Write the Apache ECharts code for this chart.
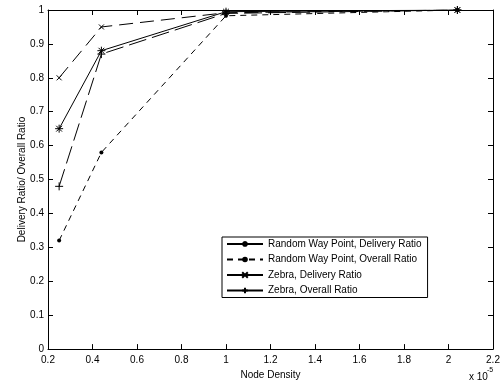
<!DOCTYPE html>
<html>
<head>
<meta charset="utf-8">
<script src="https://cdn.jsdelivr.net/npm/echarts@6/dist/echarts.min.js"></script>
<style>html,body{margin:0;padding:0;background:#fff;}#c{width:503px;height:385px;}</style>
</head>
<body>
<div id="c"></div>
<script>
const density = [0.25, 0.44, 1.0, 2.04];
const rwpDelivery = [0.65, 0.88, 0.995, 1.0];
const rwpOverall = [0.32, 0.58, 0.983, 1.0];
const zebraDelivery = [0.80, 0.95, 0.992, 1.0];
const zebraOverall = [0.48, 0.87, 0.99, 1.0];
const seriesNames = ['Random Way Point, Delivery Ratio', 'Random Way Point, Overall Ratio', 'Zebra, Delivery Ratio', 'Zebra, Overall Ratio'];
const xName = 'Node Density';
const yName = 'Delivery Ratio/ Overall Ratio';

const FONT = 'Liberation Sans';
const pair = arr => density.map((x, i) => [x, arr[i]]);
const ASTER = 'path://M0,-5L0,5M-5,0L5,0M-3.6,-3.6L3.6,3.6M-3.6,3.6L3.6,-3.6';
const PLUS = 'path://M0,-5L0,5M-5,0L5,0';
const CROSS = 'path://M-5,-5L5,5M-5,5L5,-5';
const symStyle = {color: '#000', borderColor: '#000', borderWidth: 1};

const chart = echarts.init(document.getElementById('c'), null, {renderer: 'canvas'});
const axisCommon = {
  axisLine: {show: true, onZero: false, lineStyle: {color: '#000', width: 1}},
  axisTick: {show: true, inside: true, length: 5, lineStyle: {color: '#000'}},
  splitLine: {show: false}
};
chart.setOption({
  animation: false,
  backgroundColor: '#fff',
  grid: {left: 48, right: 10, top: 10, bottom: 34},
  xAxis: [
    Object.assign({type: 'value', min: 0.2, max: 2.2, interval: 0.2, position: 'bottom',
      name: xName, nameLocation: 'middle', nameGap: 19,
      nameTextStyle: {fontFamily: FONT, fontSize: 10, color: '#000'},
      axisLabel: {fontFamily: FONT, fontSize: 10, color: '#000', margin: 6,
        formatter: v => String(Math.round(v * 10) / 10)}}, axisCommon),
    Object.assign({type: 'value', min: 0.2, max: 2.2, interval: 0.2, position: 'top',
      axisLabel: {show: false}}, axisCommon)
  ],
  yAxis: [
    Object.assign({type: 'value', min: 0, max: 1, interval: 0.1, position: 'left',
      name: yName, nameLocation: 'middle', nameGap: 21, nameMoveOverlap: false,
      nameTextStyle: {fontFamily: FONT, fontSize: 10, color: '#000'},
      axisLabel: {fontFamily: FONT, fontSize: 10, color: '#000', margin: 4,
        formatter: v => String(Math.round(v * 10) / 10)}}, axisCommon),
    Object.assign({type: 'value', min: 0, max: 1, interval: 0.1, position: 'right',
      axisLabel: {show: false}}, axisCommon)
  ],
  legend: {
    orient: 'vertical', left: 222, top: 237,
    width: 209,
    backgroundColor: '#fff', borderColor: '#000', borderWidth: 1,
    padding: [1, 6, 1, 4], itemGap: 3.5, itemWidth: 36, itemHeight: 7,
    textStyle: {fontFamily: FONT, fontSize: 10, color: '#000', lineHeight: 12},
    data: [
      {name: seriesNames[0]},
      {name: seriesNames[1]},
      {name: seriesNames[2], lineStyle: {type: 'solid'}},
      {name: seriesNames[3], lineStyle: {type: 'solid'}}
    ]
  },
  series: [
    {name: seriesNames[0], type: 'line', data: pair(rwpDelivery), symbol: ASTER, symbolSize: 8,
      itemStyle: symStyle, lineStyle: {color: '#000', width: 1, type: 'solid'}},
    {name: seriesNames[1], type: 'line', data: pair(rwpOverall), symbol: 'circle', symbolSize: 4,
      itemStyle: {color: '#000'}, lineStyle: {color: '#000', width: 1, type: [6, 5]}},
    {name: seriesNames[2], type: 'line', data: pair(zebraDelivery), symbol: CROSS, symbolSize: 5,
      itemStyle: symStyle, lineStyle: {color: '#000', width: 1, type: [14, 7]}},
    {name: seriesNames[3], type: 'line', data: pair(zebraOverall), symbol: PLUS, symbolSize: 8,
      itemStyle: symStyle, lineStyle: {color: '#000', width: 1, type: [18, 6]}}
  ],
  graphic: [
    {type: 'text', left: 469, top: 372, style: {text: 'x 10', font: '10px "Liberation Sans"', fill: '#000'}},
    {type: 'text', left: 487, top: 367, style: {text: '-5', font: '7px "Liberation Sans"', fill: '#000'}}
  ]
});
</script>
</body>
</html>
